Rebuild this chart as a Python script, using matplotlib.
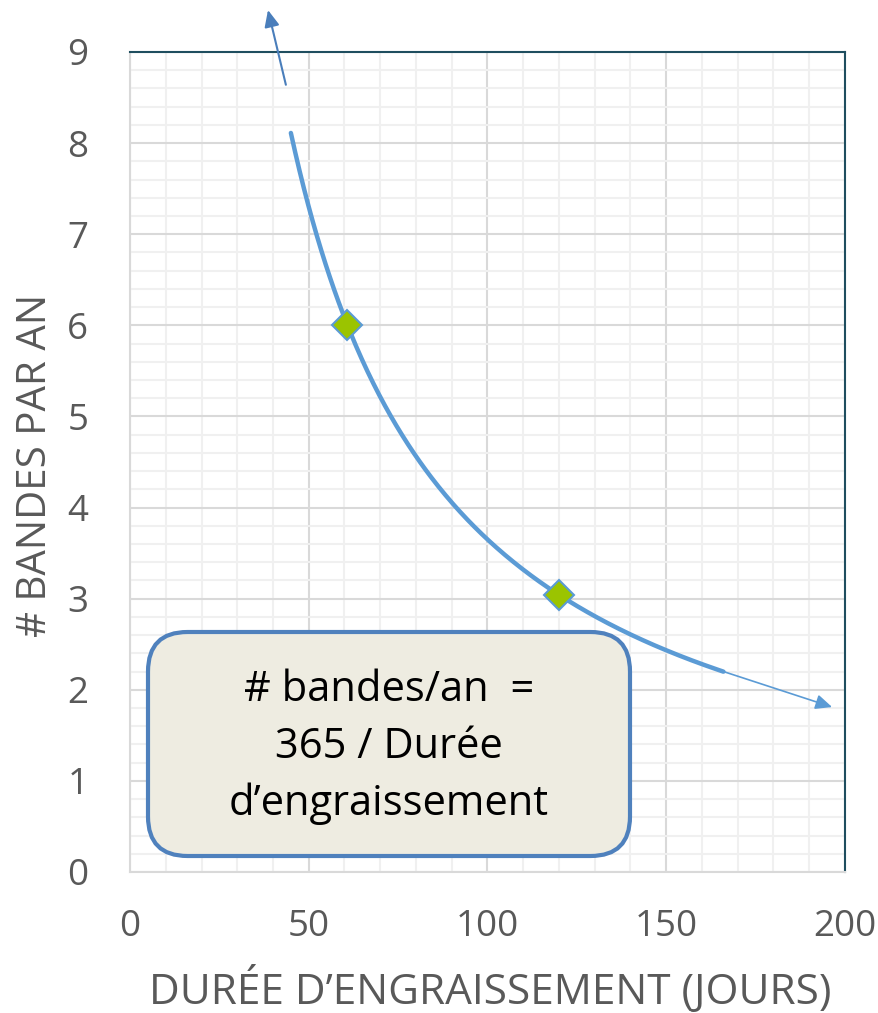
import numpy as np
import matplotlib
matplotlib.use("Agg")
import matplotlib.pyplot as plt
from matplotlib.patches import FancyBboxPatch
from matplotlib.ticker import MultipleLocator

# Data
numerator = 365
x_start, x_end = 45, 166
marker_x = [365 / 6, 120]
marker_y = [6, 365 / 120]
arrow_up = ((43.6, 8.64), (38.6, 9.46))
arrow_right = ((166.4, 2.195), (196.4, 1.81))
x_ticks = [0, 50, 100, 150, 200]
y_ticks = list(range(0, 10))
xlabel = "DURÉE D\u2019ENGRAISSEMENT (JOURS)"
ylabel = "# BANDES PAR AN"
box_text = "# bandes/an  =\n365 / Durée\nd\u2019engraissement"

plt.rcParams['font.family'] = ['Open Sans', 'DejaVu Sans']

fig = plt.figure(figsize=(8.79, 10.13), dpi=100)
ax = fig.add_axes([0.1479, 0.1392, 0.8134, 0.8095])
ax.set_xlim(0, 200)
ax.set_ylim(0, 9)

ax.xaxis.set_major_locator(MultipleLocator(50))
ax.xaxis.set_minor_locator(MultipleLocator(10))
ax.yaxis.set_major_locator(MultipleLocator(1))
ax.yaxis.set_minor_locator(MultipleLocator(0.2))
ax.grid(which='major', color='#D9D9D9', lw=1.5)
ax.grid(which='minor', color='#F0F0F0', lw=1.5)
ax.set_axisbelow(True)
ax.tick_params(which='both', length=0)
ax.tick_params(axis='x', pad=27)
ax.tick_params(axis='y', pad=30)
ax.set_xticks(x_ticks)
ax.set_yticks(y_ticks)
for lab in ax.get_xticklabels() + ax.get_yticklabels():
    lab.set_fontsize(26.5)
    lab.set_color('#595959')

for s in ['left', 'bottom']:
    ax.spines[s].set_color('#D9D9D9')
    ax.spines[s].set_linewidth(1.5)
for s in ['top', 'right']:
    ax.spines[s].set_color('#1F4E5F')
    ax.spines[s].set_linewidth(1.5)

xs = np.linspace(x_start, x_end, 300)
ax.plot(xs, numerator / xs, color='#5B9BD5', lw=3.2, solid_capstyle='round', zorder=3)
ax.plot(marker_x, marker_y, ls='none', marker='D', ms=15, mfc='#9BC400',
        mec='#5B9BD5', mew=1.5, zorder=5)

ax.annotate('', xy=arrow_up[1], xytext=arrow_up[0], annotation_clip=False,
            arrowprops=dict(arrowstyle='-|>,head_length=1.0,head_width=0.45',
                            color='#4A7EBB', lw=1.5, shrinkA=0, shrinkB=0))
ax.annotate('', xy=arrow_right[1], xytext=arrow_right[0], annotation_clip=False,
            arrowprops=dict(arrowstyle='-|>,head_length=1.0,head_width=0.45',
                            color='#5B9BD5', lw=1.2, shrinkA=0, shrinkB=0))

bx0, bx1 = 148 / 879, 630 / 879
by0, by1 = 1 - 856 / 1013, 1 - 632 / 1013
box = FancyBboxPatch((bx0, by0), bx1 - bx0, by1 - by0,
                     boxstyle='round,pad=0,rounding_size=0.045',
                     transform=fig.transFigure, facecolor='#EEECE1',
                     edgecolor='#4F81BD', lw=3, zorder=6, mutation_aspect=879 / 1013)
fig.patches.append(box)
fig.text(389 / 879, 1 - 747 / 1013, box_text, ha='center', va='center',
         fontsize=30, color='black', linespacing=1.45, zorder=7)

fig.text(490 / 879, 1 - 990 / 1013, xlabel, ha='center', va='center',
         fontsize=30.5, color='#595959')
fig.text(36 / 879, 1 - 465 / 1013, ylabel, ha='center', va='center', rotation=90,
         fontsize=29, color='#595959')

fig.savefig('out.png', dpi=100)
